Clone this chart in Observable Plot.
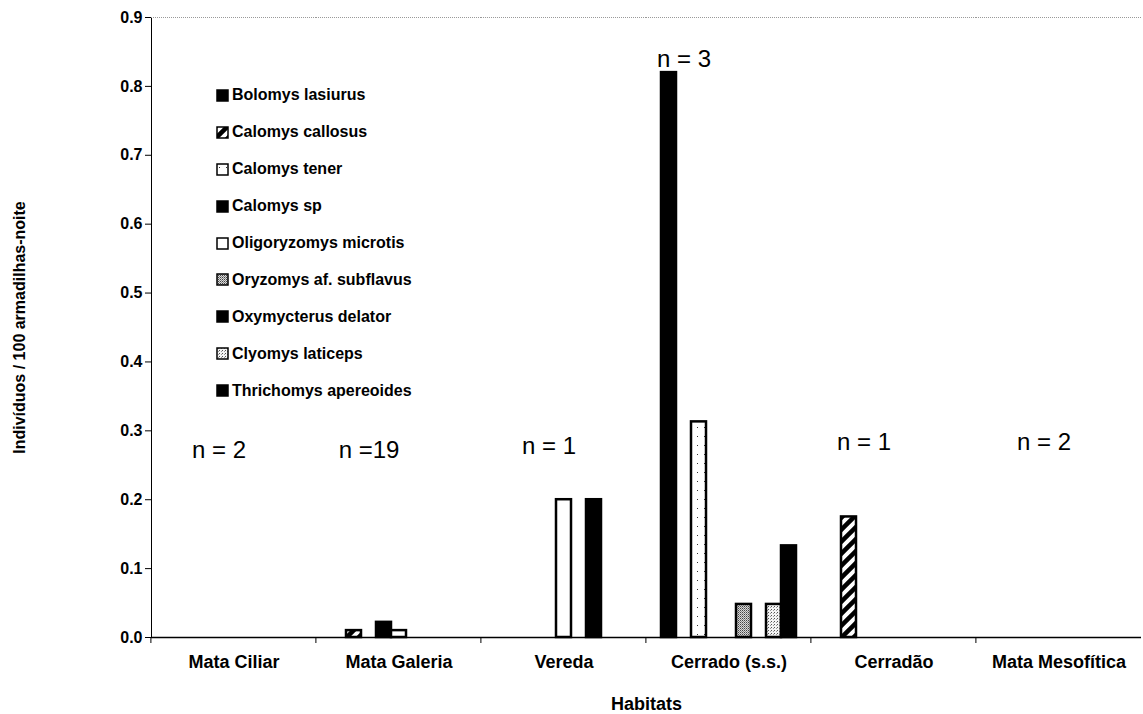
<!DOCTYPE html>
<html>
<head>
<meta charset="utf-8">
<script src="https://cdn.jsdelivr.net/npm/d3@7"></script>
<script src="https://cdn.jsdelivr.net/npm/@observablehq/plot@0.6"></script>
<style>
  body { margin: 0; background: white; }
  #chart { position: relative; width: 1143px; height: 714px; font-family: 'Liberation Sans', Arial, sans-serif; }
  #legend { position: absolute; left: 216px; top: 77px; }
  .lrow { height: 36.9px; display: flex; align-items: center; font-size: 16px; font-weight: bold; color: black; white-space: nowrap; }
  .lrow svg { margin-right: 3px; }
</style>
</head>
<body>
<svg width="0" height="0" style="position:absolute">
  <defs>
    <pattern id="hatch" patternUnits="userSpaceOnUse" width="12" height="12">
      <rect width="12" height="12" fill="white"/>
      <path d="M-3,15 L15,-3 M-3,3 L3,-3 M9,15 L15,9" stroke="black" stroke-width="4.5"/>
    </pattern>
    <pattern id="dense" patternUnits="userSpaceOnUse" width="2" height="2">
      <rect width="2" height="2" fill="#d8d8d8"/>
      <rect width="1" height="1" fill="#444"/>
      <rect x="1" y="1" width="1" height="1" fill="#888"/>
    </pattern>
    <pattern id="light" patternUnits="userSpaceOnUse" width="3" height="3">
      <rect width="3" height="3" fill="#f4f4f4"/>
      <rect width="1" height="1" fill="#555"/>
      <rect x="2" y="1" width="1" height="1" fill="#999"/>
    </pattern>
    <pattern id="sparse" patternUnits="userSpaceOnUse" width="7" height="9">
      <rect width="7" height="9" fill="white"/>
      <rect x="3" y="4" width="1" height="1" fill="#333"/>
    </pattern>
  </defs>
</svg>
<div id="chart"><div id="legend"></div></div>
<script>
const habitats = ["Mata Ciliar", "Mata Galeria", "Vereda", "Cerrado (s.s.)", "Cerradão", "Mata Mesofítica"];
const species = ["Bolomys lasiurus", "Calomys callosus", "Calomys tener", "Calomys sp", "Oligoryzomys microtis", "Oryzomys af. subflavus", "Oxymycterus delator", "Clyomys laticeps", "Thrichomys apereoides"];
const fills = ["black", "url(#hatch)", "url(#sparse)", "black", "white", "url(#dense)", "black", "url(#light)", "black"];

// values per species, in habitat order
const bolomysLasiurus      = [0, 0,     0,   0.82,  0,     0];
const calomysCallosus      = [0, 0.01,  0,   0,     0.175, 0];
const calomysTener         = [0, 0,     0,   0.313, 0,     0];
const calomysSp            = [0, 0.022, 0,   0,     0,     0];
const oligoryzomysMicrotis = [0, 0.01,  0.2, 0,     0,     0];
const oryzomysSubflavus    = [0, 0,     0,   0.048, 0,     0];
const oxymycterusDelator   = [0, 0,     0.2, 0,     0,     0];
const clyomysLaticeps      = [0, 0,     0,   0.048, 0,     0];
const thrichomysApereoides = [0, 0,     0,   0.133, 0,     0];
const seriesValues = [bolomysLasiurus, calomysCallosus, calomysTener, calomysSp, oligoryzomysMicrotis, oryzomysSubflavus, oxymycterusDelator, clyomysLaticeps, thrichomysApereoides];

const nLabels = ["n = 2", "n =19", "n = 1", "n = 3", "n = 1", "n = 2"];
const nY = [0.272, 0.272, 0.277, 0.84, 0.284, 0.284];
const nAnchor = ["Calomys sp", "Calomys tener", "Calomys sp", "Calomys callosus", "Calomys tener", "Calomys sp"];

const yTicks = [0, 0.1, 0.2, 0.3, 0.4, 0.5, 0.6, 0.7, 0.8, 0.9];
const yTitle = "Indivíduos / 100 armadilhas-noite";
const xTitle = "Habitats";

const rows = [];
habitats.forEach((h, i) => species.forEach((s, j) => {
  const v = seriesValues[j][i];
  if (v > 0) rows.push({habitat: h, species: s, value: v});
}));
const nRows = habitats.map((h, i) => ({habitat: h, label: nLabels[i], y: nY[i], anchor: nAnchor[i]}));

const chart = Plot.plot({
  width: 1143, height: 714,
  marginLeft: 148, marginRight: 0, marginTop: 17, marginBottom: 77,
  style: {fontFamily: "'Liberation Sans', Arial, sans-serif", fontSize: "16px", fontWeight: "bold", color: "black", background: "white", overflow: "visible"},
  fx: {domain: habitats, padding: 0},
  x: {domain: species, paddingInner: 0, paddingOuter: 0.8, axis: null},
  y: {domain: [0, 0.9], ticks: yTicks, tickFormat: d3.format(".1f"), tickSize: 6, line: true, label: yTitle, labelAnchor: "center", labelOffset: 138, labelArrow: "none"},
  color: {type: "ordinal", domain: species, range: fills},
  marks: [
    Plot.ruleY([0.9], {stroke: "#999", strokeDasharray: "1,1"}),
    Plot.barY(rows, {fx: "habitat", x: "species", y: "value", fill: "species", stroke: "black", strokeWidth: 2.5}),
    Plot.ruleY([0], {stroke: "black", strokeWidth: 1.5}),
    Plot.axisFx({anchor: "bottom", tickSize: 0, tickPadding: 18, fontSize: 18, label: xTitle, labelAnchor: "center", labelOffset: 72, labelArrow: "none"}),
    Plot.axisFx({anchor: "bottom", tickSize: 6, tickFormat: () => "", dx: -83.1, label: null}),
    Plot.text(nRows, {fx: "habitat", x: "anchor", y: "y", text: "label", fontSize: 24, fontWeight: "normal"})
  ]
});
document.getElementById("chart").prepend(chart);

const legend = document.getElementById("legend");
species.forEach((s, j) => {
  const row = document.createElement("div");
  row.className = "lrow";
  row.innerHTML = `<svg width="13" height="13"><rect x="1" y="1" width="11" height="11" fill="${fills[j]}" stroke="black" stroke-width="1.5"/></svg><span>${s}</span>`;
  legend.appendChild(row);
});
</script>
</body>
</html>
